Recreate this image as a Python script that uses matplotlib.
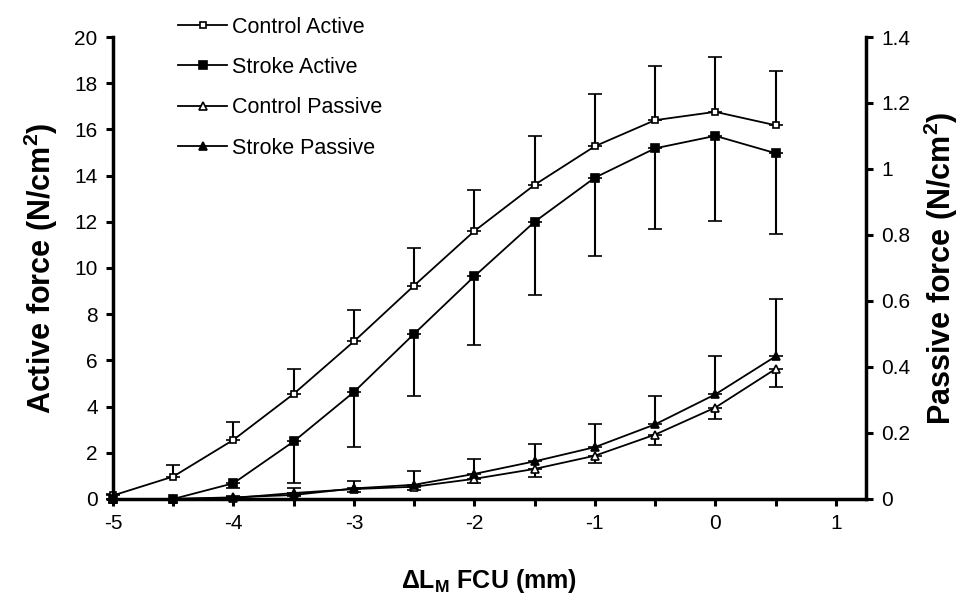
import matplotlib
matplotlib.use('Agg')
import matplotlib.pyplot as plt
from matplotlib.ticker import FuncFormatter

plt.rcParams['font.family'] = ['Liberation Sans', 'DejaVu Sans']
plt.rcParams['mathtext.fontset'] = 'custom'
plt.rcParams['mathtext.rm'] = 'Liberation Sans'
plt.rcParams['mathtext.bf'] = 'Liberation Sans:bold'

# length change of FCU (mm)
dlm = [-5, -4.5, -4, -3.5, -3, -2.5, -2, -1.5, -1, -0.5, 0, 0.5]

# active force, N/cm2 (left axis)
control_active = [0.15, 0.97, 2.56, 4.55, 6.82, 9.24, 11.6, 13.6, 15.27, 16.4, 16.76, 16.18]
control_active_sd = [0.05, 0.48, 0.79, 1.09, 1.37, 1.63, 1.76, 2.12, 2.26, 2.35, 2.39, 2.36]
stroke_active = [0.0, 0.0, 0.68, 2.49, 4.63, 7.15, 9.64, 12.0, 13.91, 15.18, 15.72, 14.97]
stroke_active_sd = [0.0, 0.0, 0.2, 1.78, 2.39, 2.71, 2.96, 3.15, 3.37, 3.51, 3.69, 3.52]

# passive force, N/cm2 (right axis)
control_passive = [0.0, 0.0, 0.003, 0.018, 0.03, 0.037, 0.061, 0.091, 0.131, 0.195, 0.277, 0.394]
control_passive_sd = [0.0, 0.0, 0.002, 0.008, 0.008, 0.009, 0.013, 0.023, 0.023, 0.031, 0.034, 0.056]
stroke_passive = [0.0, 0.0, 0.005, 0.012, 0.032, 0.043, 0.076, 0.114, 0.157, 0.226, 0.317, 0.432]
stroke_passive_sd = [0.0, 0.0, 0.003, 0.021, 0.023, 0.042, 0.046, 0.053, 0.071, 0.086, 0.115, 0.175]

x_ticks = [-5, -4.5, -4, -3.5, -3, -2.5, -2, -1.5, -1, -0.5, 0, 0.5, 1]
labels = ['Control Active', 'Stroke Active', 'Control Passive', 'Stroke Passive']

fig = plt.figure(figsize=(9.69, 5.94), dpi=100)
ax = fig.add_axes([0.1166, 0.16, 0.777, 0.7777])
ax2 = ax.twinx()

line_kw = dict(color='black', lw=1.3, mec='black', mew=1.2,
               ecolor='black', elinewidth=1.5, capsize=5, capthick=1.5, clip_on=False)

zeros = [0] * len(dlm)
h1 = ax.errorbar(dlm, control_active, yerr=[zeros, control_active_sd],
                 marker='s', ms=5, mfc='white', **line_kw)
h2 = ax.errorbar(dlm, stroke_active, yerr=[stroke_active_sd, zeros],
                 marker='s', ms=5.5, mfc='black', **line_kw)
h3 = ax2.errorbar(dlm, control_passive, yerr=[control_passive_sd, zeros],
                  marker='^', ms=5.5, mfc='white', **line_kw)
h4 = ax2.errorbar(dlm, stroke_passive, yerr=[zeros, stroke_passive_sd],
                  marker='^', ms=6, mfc='black', **line_kw)

ax.set_xlim(-5, 1.25)
ax.set_ylim(0, 20)
ax2.set_ylim(0, 1.4)
ax.set_yticks(range(0, 21, 2))
ax2.set_yticks([0, 0.2, 0.4, 0.6, 0.8, 1.0, 1.2, 1.4])
ax2.yaxis.set_major_formatter(FuncFormatter(lambda v, p: '%g' % v))
ax.set_xticks(x_ticks)
ax.set_xticklabels(['%g' % t if float(t).is_integer() else '' for t in x_ticks])

for a in (ax, ax2):
    a.spines['top'].set_visible(False)
    for s in ('left', 'right', 'bottom'):
        a.spines[s].set_linewidth(2.5)
    a.tick_params(direction='out', length=5, width=2.2, labelsize=15, pad=6)
ax.spines['right'].set_visible(False)
ax2.spines['left'].set_visible(False)
ax2.spines['bottom'].set_visible(False)

ax.set_ylabel('Active force (N/cm$^\\mathbf{2}$)', fontsize=22, fontweight='bold', labelpad=10)
ax2.set_ylabel('Passive force (N/cm$^\\mathbf{2}$)', fontsize=22, fontweight='bold', labelpad=8)
ax.set_xlabel('$\\mathbf{\\Delta L_M}$ FCU (mm)', fontsize=18, fontweight='bold', labelpad=24)

handles = [h[0] for h in (h1, h2, h3, h4)]
fig.legend(handles, labels, loc='upper left', bbox_to_anchor=(0.184, 0.972),
           frameon=False, fontsize=15.5, handlelength=2.28, handletextpad=0.23,
           labelspacing=0.9, borderpad=0, borderaxespad=0)

fig.savefig('out.png', dpi=100)
